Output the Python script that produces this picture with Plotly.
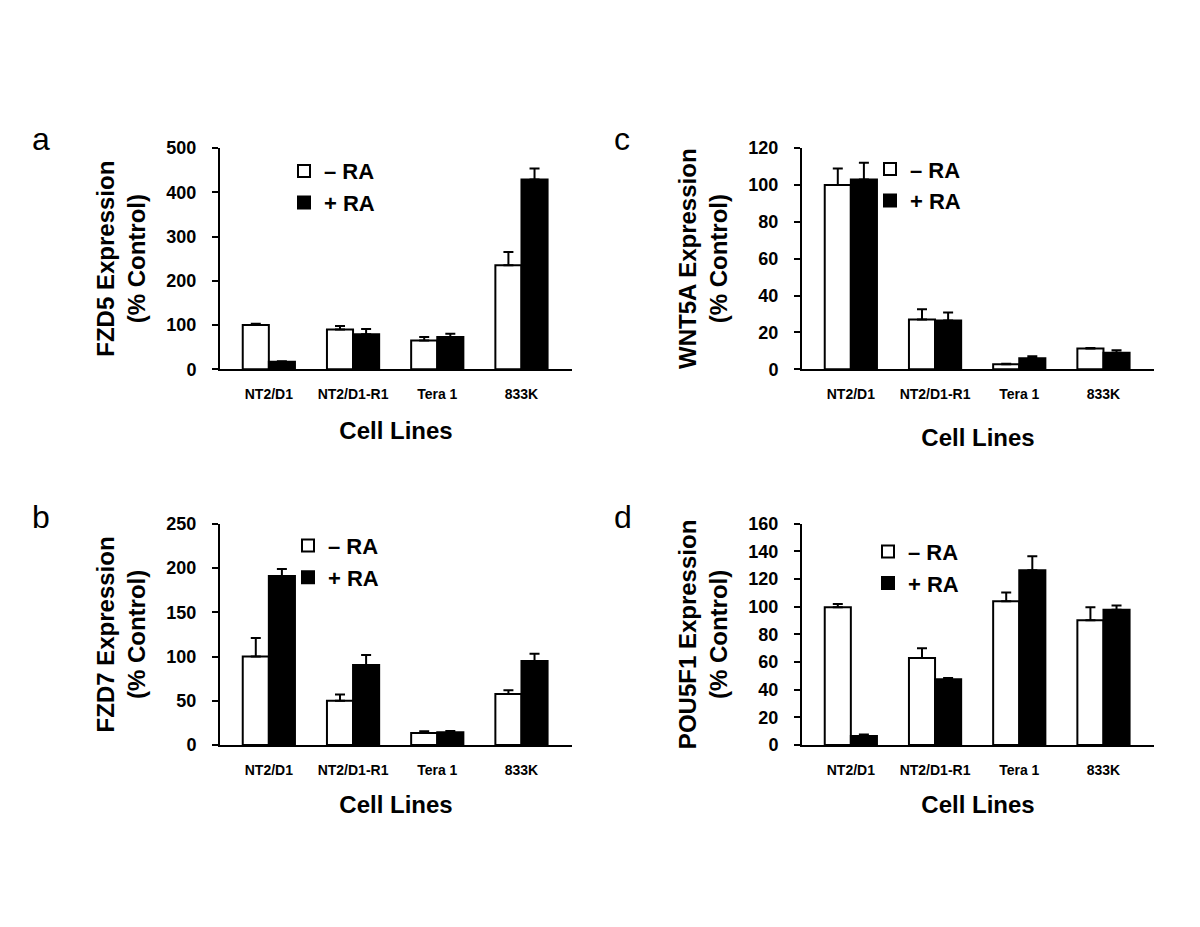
import plotly.graph_objects as go

cell_lines = ["NT2/D1", "NT2/D1-R1", "Tera 1", "833K"]

# panel a - FZD5
fzd5_minus = [100, 90, 65, 235]
fzd5_minus_err = [3, 8, 8, 30]
fzd5_plus = [17, 79, 73, 429]
fzd5_plus_err = [1, 12, 7, 25]

# panel c - WNT5A
wnt5a_minus = [100, 27, 2.7, 11.2]
wnt5a_minus_err = [9, 5.5, 0.3, 0.4]
wnt5a_plus = [103, 26.5, 6, 8.9]
wnt5a_plus_err = [9, 4.3, 1.1, 1.4]

# panel b - FZD7
fzd7_minus = [100, 50, 13.6, 57.7]
fzd7_minus_err = [21, 7, 1.8, 4.1]
fzd7_plus = [191, 90.4, 14.3, 95]
fzd7_plus_err = [8, 11.4, 1.5, 8]

# panel d - POU5F1
pou5f1_minus = [99.6, 63, 104, 90.3]
pou5f1_minus_err = [2.4, 7, 6.4, 9.3]
pou5f1_plus = [6.5, 47.5, 126.5, 97.8]
pou5f1_plus_err = [1, 0.9, 10.1, 3.2]

FONT = "Liberation Sans, Arial, Helvetica, sans-serif"
W, H = 1200, 927
AX_W, AX_H = 352, 226

panels = [
    # letter, gene, minus, minus err, plus, plus err, ymax, dtick,
    # axis left px, axis top px, legend (x, y) px, x-title standoff, letter top px
    ("a", "FZD5", fzd5_minus, fzd5_minus_err, fzd5_plus, fzd5_plus_err, 500, 100, 212, 133, (276, 135), 21, 103),
    ("c", "WNT5A", wnt5a_minus, wnt5a_minus_err, wnt5a_plus, wnt5a_plus_err, 120, 20, 794, 133, (862, 133), 28, 103),
    ("b", "FZD7", fzd7_minus, fzd7_minus_err, fzd7_plus, fzd7_plus_err, 250, 50, 212, 517, (280, 518), 19, 490),
    ("d", "POU5F1", pou5f1_minus, pou5f1_minus_err, pou5f1_plus, pou5f1_plus_err, 160, 20, 794, 517, (860, 524), 19, 490),
]

fig = go.Figure()
annotations = []
layout = {}

for i, (letter, gene, mn, mn_err, pl, pl_err, ymax, dtick, x0, top, lg, xstand, ltop) in enumerate(panels):
    n = "" if i == 0 else str(i + 1)
    xa, ya = "x" + n, "y" + n
    leg = "legend" + n
    fig.add_trace(go.Bar(
        x=cell_lines, y=mn, name="\u2013 RA", xaxis=xa, yaxis=ya, legend=leg,
        marker=dict(color="white", line=dict(color="black", width=2)),
        error_y=dict(type="data", array=mn_err, arrayminus=[0] * 4, symmetric=False,
                     color="black", thickness=2, width=5),
    ))
    fig.add_trace(go.Bar(
        x=cell_lines, y=pl, name="+ RA", xaxis=xa, yaxis=ya, legend=leg,
        marker=dict(color="black", line=dict(color="black", width=2)),
        error_y=dict(type="data", array=pl_err, arrayminus=[0] * 4, symmetric=False,
                     color="black", thickness=2, width=5),
    ))

    layout["xaxis" + n] = dict(
        domain=[x0 / W, (x0 + AX_W) / W], anchor=ya, type="category",
        range=[-0.58, 3.6], showline=True, linecolor="black", linewidth=2,
        ticks="outside", ticklen=11, tickcolor="rgba(0,0,0,0)",
        tickfont=dict(family=FONT, size=14, color="black", weight="bold"),
        title=dict(text="Cell Lines", standoff=xstand,
                   font=dict(family=FONT, size=24, color="black", weight="bold")),
        showgrid=False, zeroline=False, fixedrange=True,
    )
    layout["yaxis" + n] = dict(
        domain=[1 - (top + AX_H) / H, 1 - top / H], anchor=xa,
        range=[0, ymax], dtick=dtick, showline=True, linecolor="black", linewidth=2,
        ticks="outside", ticklen=6, tickwidth=2, tickcolor="black", ticklabelstandoff=12,
        tickfont=dict(family=FONT, size=18, color="black", weight="bold"),
        title=dict(text=gene + " Expression<br>(% Control)", standoff=14,
                   font=dict(family=FONT, size=24, color="black", weight="bold")),
        showgrid=False, zeroline=False, fixedrange=True,
    )
    layout[leg] = dict(
        x=lg[0] / W, y=1 - lg[1] / H, xanchor="left", yanchor="top",
        bgcolor="rgba(0,0,0,0)", itemwidth=30, tracegroupgap=0,
        font=dict(family=FONT, size=22, color="black", weight="bold"),
    )
    annotations.append(dict(
        text=letter, x=(x0 - 190) / W, y=1 - ltop / H,
        xref="paper", yref="paper", xanchor="left", yanchor="top",
        showarrow=False, font=dict(family=FONT, size=32, color="black"),
    ))

fig.update_layout(
    **layout,
    annotations=annotations,
    barmode="group", bargap=0.38, bargroupgap=0,
    width=W, height=H, margin=dict(l=0, r=0, t=0, b=0),
    plot_bgcolor="white", paper_bgcolor="white",
    showlegend=True,
)

fig.write_html("out.html")
